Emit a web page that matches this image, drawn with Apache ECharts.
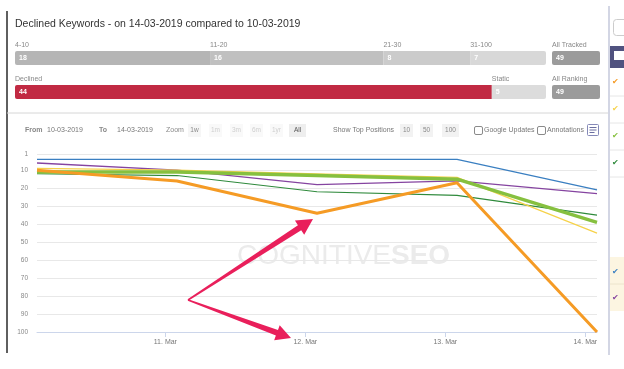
<!DOCTYPE html>
<html><head><meta charset="utf-8">
<script src="https://cdn.jsdelivr.net/npm/echarts@6/dist/echarts.min.js"></script>
<style>html,body{margin:0;padding:0;background:#fff;}#c{width:624px;height:369px;}</style>
</head><body><div id="c"></div>
<script>
// ---------- data ----------
const titleText = 'Declined Keywords - on 14-03-2019 compared to 10-03-2019';
const rangeLabels = ['4-10', '11-20', '21-30', '31-100'];
const rangeCounts = [18, 16, 8, 7];
const statusLabels = ['Declined', 'Static'];
const statusCounts = [44, 5];
const totalLabels = ['All Tracked', 'All Ranking'];
const totalCounts = [49, 49];

const pointTimes = ['2019-03-10 02:00', '2019-03-11 02:00', '2019-03-12 02:00', '2019-03-13 02:00', '2019-03-14 02:00'];
const xTickDates = ['2019-03-11', '2019-03-12', '2019-03-13', '2019-03-14'];
const yTicks = [1, 10, 20, 30, 40, 50, 60, 70, 80, 90, 100];

const kwBlue = [4, 4, 4, 4, 21];
const kwPurple = [6, 10, 18, 16, 23];
const kwDarkGreen = [12, 13, 22, 24, 35];
const kwYellow = [9, 10, 12, 14, 45];
const kwLime = [11, 11, 13, 15, 39];
const kwOrange = [10, 16, 34, 17, 100];

// ---------- styles ----------
const FONT = '"Liberation Sans", Arial, sans-serif';
const rangeColors = ['#b5b5b5', '#c0c0c0', '#cbcbcb', '#d8d8d8'];
const statusColors = ['#c12a43', '#dcdcdc'];
const totalColor = '#9b9b9b';
const lineDefs = [
  { name: 'kw-blue', data: kwBlue, color: '#3a7fc1', width: 1.3 },
  { name: 'kw-purple', data: kwPurple, color: '#8544a0', width: 1.3 },
  { name: 'kw-darkgreen', data: kwDarkGreen, color: '#2f8a3c', width: 1.1 },
  { name: 'kw-yellow', data: kwYellow, color: '#f6d24a', width: 1.2 },
  { name: 'kw-lime', data: kwLime, color: '#86c03f', width: 3.5 },
  { name: 'kw-orange', data: kwOrange, color: '#f59b25', width: 3 }
];

const sum = a => a.reduce((s, v) => s + v, 0);
const parseT = s => {
  const m = s.match(/(\d+)-(\d+)-(\d+)(?:\s+(\d+):(\d+))?/);
  return new Date(+m[1], +m[2] - 1, +m[3], m[4] ? +m[4] : 0, m[5] ? +m[5] : 0).getTime();
};
const monthNames = ['Jan','Feb','Mar','Apr','May','Jun','Jul','Aug','Sep','Oct','Nov','Dec'];

const grids = [
  { left: 37, right: 27, top: 154, bottom: 37 },
  { left: 15, width: 531, top: 51, height: 14 },
  { left: 15, width: 531, top: 85, height: 14 },
  { left: 552, width: 48, top: 51, height: 14 },
  { left: 552, width: 48, top: 85, height: 14 }
];

const xTickVals = xTickDates.map(parseT);
const xAxes = [{
  type: 'value', gridIndex: 0, scale: true,
  min: parseT(pointTimes[0]), max: parseT(pointTimes[pointTimes.length - 1]),
  axisLine: { onZero: false, lineStyle: { color: '#ccd6eb', width: 1 } },
  axisTick: { show: true, length: 5, lineStyle: { color: '#ccd6eb' }, customValues: xTickVals },
  axisLabel: {
    customValues: xTickVals, fontSize: 7, color: '#777', fontFamily: FONT, margin: 7,
    formatter: v => { const d = new Date(v); return d.getDate() + '. ' + monthNames[d.getMonth()]; }
  },
  splitLine: { show: false }
}];
const yAxes = [{
  type: 'value', gridIndex: 0, inverse: true, min: 1, max: 100,
  axisLine: { show: false }, axisTick: { show: false, customValues: yTicks },
  axisLabel: { customValues: yTicks, fontSize: 6.5, color: '#888', fontFamily: FONT, margin: 9 },
  splitLine: { show: true, lineStyle: { color: '#e8e8e8', width: 1 } }
}];
const rowTotals = [sum(rangeCounts), sum(statusCounts), totalCounts[0], totalCounts[1]];
for (let g = 1; g <= 4; g++) {
  xAxes.push({ type: 'value', gridIndex: g, min: 0, max: rowTotals[g - 1], show: false });
  yAxes.push({ type: 'category', gridIndex: g, data: ['row'], show: false });
}

function barLabel() {
  return {
    show: true, position: [0, -12], align: 'left', verticalAlign: 'top',
    formatter: p => '{n|' + p.seriesName + '}\n{v|' + p.value + '}',
    rich: {
      n: { fontSize: 7, color: '#888', fontFamily: FONT, lineHeight: 12 },
      v: { fontSize: 7, color: '#fff', fontWeight: 'bold', fontFamily: FONT, lineHeight: 14, padding: [0, 0, 0, 4] }
    }
  };
}
function stackSeries(labels, counts, colors, gi, stack) {
  return labels.map((lab, i) => ({
    type: 'bar', name: lab, xAxisIndex: gi, yAxisIndex: gi, stack: stack,
    barWidth: 14, data: [counts[i]], silent: true,
    itemStyle: { color: colors[i], borderRadius: i === 0 ? [2, 0, 0, 2] : (i === labels.length - 1 ? [0, 2, 2, 0] : 0) },
    label: barLabel()
  }));
}

const series = [];
lineDefs.forEach(d => {
  series.push({
    type: 'line', name: d.name, xAxisIndex: 0, yAxisIndex: 0,
    data: pointTimes.map((t, i) => [parseT(t), d.data[i]]),
    symbol: 'none', lineStyle: { color: d.color, width: d.width }, itemStyle: { color: d.color },
    silent: true, z: 3
  });
});
series.push(...stackSeries(rangeLabels, rangeCounts, rangeColors, 1, 'r'));
series.push(...stackSeries(statusLabels, statusCounts, statusColors, 2, 's'));
series.push(...stackSeries([totalLabels[0]], [totalCounts[0]], [totalColor], 3, 't1').map(s => (s.itemStyle.borderRadius = 2, s)));
series.push(...stackSeries([totalLabels[1]], [totalCounts[1]], [totalColor], 4, 't2').map(s => (s.itemStyle.borderRadius = 2, s)));

// ---------- page chrome (annotation shapes & toolbar) ----------
function txt(x, y, s, o) {
  o = o || {};
  return { type: 'text', x: x, y: y, silent: true, z: o.z || 10,
    style: { text: s, fill: o.color || '#666', font: (o.weight || 'normal') + ' ' + (o.size || 7.5) + 'px ' + FONT,
      align: o.align || 'left', verticalAlign: 'middle' } };
}
function box(x, y, w, h, fill, stroke, r) {
  return { type: 'rect', silent: true, z: 5, shape: { x: x, y: y, width: w, height: h, r: r || 0 },
    style: { fill: fill || 'none', stroke: stroke || null, lineWidth: 1 } };
}
function arrow(x1, y1, x2, y2, w0, w1, hl, hw) {
  const dx = x2 - x1, dy = y2 - y1, L = Math.hypot(dx, dy);
  const ux = dx / L, uy = dy / L, nx = -uy, ny = ux;
  const bx = x2 - ux * hl, by = y2 - uy * hl;
  const pts = [
    [x1 + nx * w0 / 2, y1 + ny * w0 / 2], [bx + nx * w1 / 2, by + ny * w1 / 2], [bx + nx * hw / 2, by + ny * hw / 2],
    [x2, y2], [bx - nx * hw / 2, by - ny * hw / 2], [bx - nx * w1 / 2, by - ny * w1 / 2], [x1 - nx * w0 / 2, y1 - ny * w0 / 2]
  ];
  return { type: 'polygon', silent: true, z: 100, shape: { points: pts }, style: { fill: '#e91f5b' } };
}
function ln(x1, y1, x2, y2, color, w, z) {
  return { type: 'line', silent: true, z: z || 6, shape: { x1: x1, y1: y1, x2: x2, y2: y2 }, style: { stroke: color, lineWidth: w || 1 } };
}

const graphics = [
  { type: 'text', x: 237, y: 256, silent: true, z: 0,
    style: { text: '{a|COGNITIVE}{b|SEO}', verticalAlign: 'middle', align: 'left',
      rich: { a: { fontSize: 28, fontFamily: FONT, fill: '#ebebeb', fontWeight: 'normal' },
              b: { fontSize: 28, fontFamily: FONT, fill: '#ebebeb', fontWeight: 'bold' } } } },
  ln(7, 11, 7, 353, '#2a2a2a', 1.5, 10),
  ln(7, 113, 609, 113, '#d6d6d6', 1, 10),
  txt(15, 24, titleText, { size: 10.5, color: '#333' }),
  txt(25, 130, 'From', { weight: 'bold', color: '#888', size: 7 }),
  txt(47, 130, '10-03-2019', { color: '#777', size: 7 }),
  txt(99, 130, 'To', { weight: 'bold', color: '#888', size: 7 }),
  txt(117, 130, '14-03-2019', { color: '#777', size: 7 }),
  txt(166, 130, 'Zoom', { color: '#888', size: 7 }),
  box(188, 124, 13, 13, '#f6f6f6'), txt(194.5, 130, '1w', { color: '#888', align: 'center', size: 6.5 }),
  box(209, 124, 13, 13, '#f9f9f9'), txt(215.5, 130, '1m', { color: '#cfcfcf', align: 'center', size: 6.5 }),
  box(230, 124, 13, 13, '#f9f9f9'), txt(236.5, 130, '3m', { color: '#cfcfcf', align: 'center', size: 6.5 }),
  box(250, 124, 13, 13, '#f9f9f9'), txt(256.5, 130, '6m', { color: '#cfcfcf', align: 'center', size: 6.5 }),
  box(270, 124, 13, 13, '#f9f9f9'), txt(276.5, 130, '1yr', { color: '#cfcfcf', align: 'center', size: 6.5 }),
  box(289, 124, 17, 13, '#eeeeee'), txt(297.5, 130, 'All', { color: '#555', align: 'center', size: 6.5 }),
  txt(333, 130, 'Show Top Positions', { color: '#777', size: 7 }),
  box(400, 124, 13, 13, '#f2f2f2'), txt(406.5, 130, '10', { color: '#888', align: 'center', size: 6.5 }),
  box(420, 124, 13, 13, '#f2f2f2'), txt(426.5, 130, '50', { color: '#888', align: 'center', size: 6.5 }),
  box(442, 124, 17, 13, '#f2f2f2'), txt(450.5, 130, '100', { color: '#888', align: 'center', size: 6.5 }),
  box(474.5, 126.5, 8, 8, '#fff', '#8a8a8a', 1.5), txt(484, 130.5, 'Google Updates', { color: '#777', size: 7 }),
  box(537.5, 126.5, 8, 8, '#fff', '#8a8a8a', 1.5), txt(547, 130.5, 'Annotations', { color: '#777', size: 7 }),
  box(587.5, 124.5, 11, 11, '#fff', '#8589b8', 1),
  ln(589.5, 127.5, 596.5, 127.5, '#6a6ea0'),
  ln(589.5, 130, 596.5, 130, '#6a6ea0'),
  ln(589.5, 132.5, 594.5, 132.5, '#6a6ea0'),
  ln(609, 6, 609, 355, '#d3d6e4', 2, 10),
  box(613.5, 19.5, 14, 16, '#fff', '#cccccc', 3),
  box(610, 46, 14, 22, '#50527f'),
  box(614, 51, 10, 9, '#ffffff'),
  ln(610, 96, 624, 96, '#e6e6e6'),
  ln(610, 123, 624, 123, '#e6e6e6'),
  ln(610, 150, 624, 150, '#e6e6e6'),
  ln(610, 177, 624, 177, '#e6e6e6'),
  txt(612, 82, '✔', { color: '#f59b25', size: 8 }),
  txt(612, 109, '✔', { color: '#f6d24a', size: 8 }),
  txt(612, 136, '✔', { color: '#86c03f', size: 8 }),
  txt(612, 163, '✔', { color: '#2f8a3c', size: 8 }),
  box(610, 257, 14, 54, '#fcf5e1'),
  ln(610, 284, 624, 284, '#ece4cc'),
  txt(612, 272, '✔', { color: '#3a7fc1', size: 8 }),
  txt(612, 298, '✔', { color: '#8544a0', size: 8 }),
  arrow(188, 300, 313, 219, 1.5, 6, 16, 17),
  arrow(188, 300, 291, 338, 1.5, 6, 15, 16)
];

const chart = echarts.init(document.getElementById('c'));
chart.setOption({
  animation: false,
  backgroundColor: '#ffffff',
  textStyle: { fontFamily: FONT },
  grid: grids,
  xAxis: xAxes,
  yAxis: yAxes,
  series: series,
  graphic: { elements: graphics }
});
</script>
</body></html>
